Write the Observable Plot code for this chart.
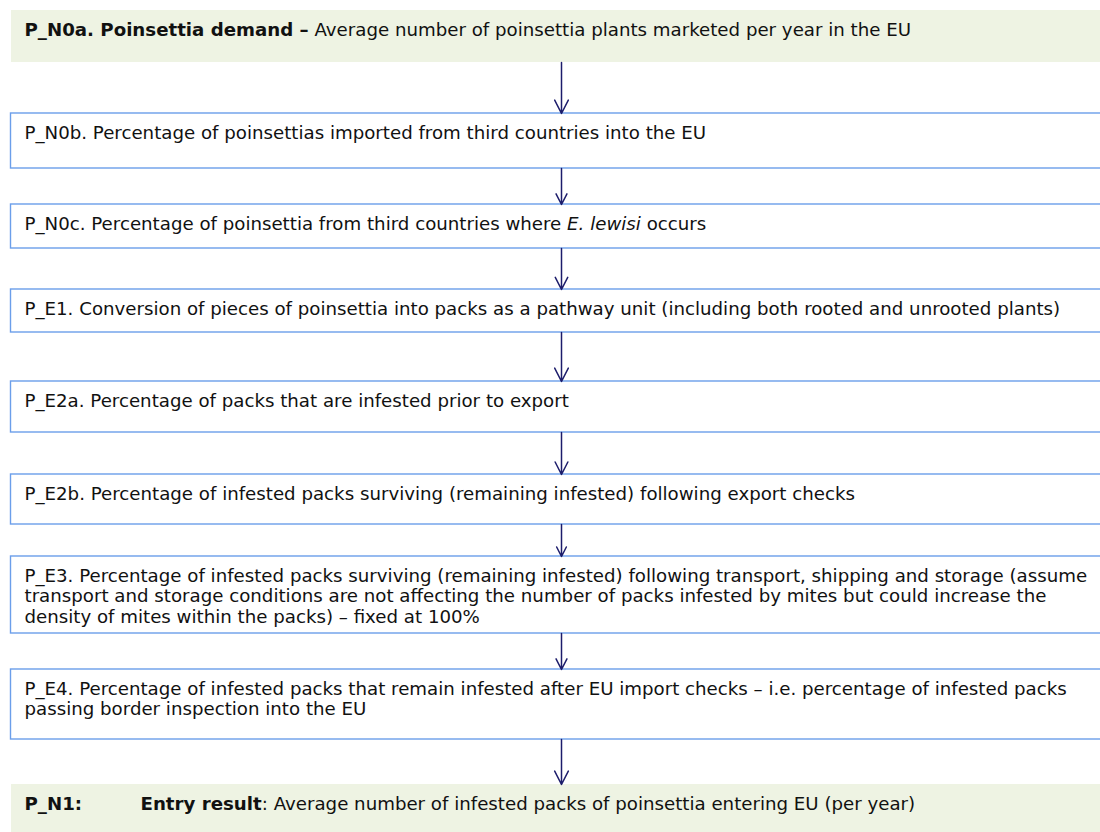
<!DOCTYPE html>
<html>
<head>
<meta charset="utf-8">
<script src="https://cdn.jsdelivr.net/npm/d3@7"></script>
<script src="https://cdn.jsdelivr.net/npm/@observablehq/plot@0.6"></script>
<style>
  html, body { margin: 0; padding: 0; background: #ffffff; }
  #chart svg { display: block; }
</style>
</head>
<body>
<div id="chart"></div>
<script>
// ---- data: flowchart steps, in order ----
const stepIds = ["P_N0a", "P_N0b", "P_N0c", "P_E1", "P_E2a", "P_E2b", "P_E3", "P_E4", "P_N1"];
const stepKinds = ["result", "step", "step", "step", "step", "step", "step", "step", "result"];
// each step: lines of segments [text, style]
const stepLines = [
  [[["P_N0a. Poinsettia demand \u2013", "bold"], [" Average number of poinsettia plants marketed per year in the EU", "normal"]]],
  [[["P_N0b. Percentage of poinsettias imported from third countries into the EU", "normal"]]],
  [[["P_N0c. Percentage of poinsettia from third countries where ", "normal"], ["E. lewisi", "italic"], [" occurs", "normal"]]],
  [[["P_E1. Conversion of pieces of poinsettia into packs as a pathway unit (including both rooted and unrooted plants)", "normal"]]],
  [[["P_E2a. Percentage of packs that are infested prior to export", "normal"]]],
  [[["P_E2b. Percentage of infested packs surviving (remaining infested) following export checks", "normal"]]],
  [
    [["P_E3. Percentage of infested packs surviving (remaining infested) following transport, shipping and storage (assume", "normal"]],
    [["transport and storage conditions are not affecting the number of packs infested by mites but could increase the", "normal"]],
    [["density of mites within the packs) \u2013 fixed at 100%", "normal"]]
  ],
  [
    [["P_E4. Percentage of infested packs that remain infested after EU import checks \u2013 i.e. percentage of infested packs", "normal"]],
    [["passing border inspection into the EU", "normal"]]
  ],
  [[["P_N1:", "bold"], ["\t", "tab"], ["Entry result", "bold"], [": Average number of infested packs of poinsettia entering EU (per year)", "normal"]]]
];

// ---- layout (page coordinates) ----
const W = 1100, H = 832;
const boxTop    = [10, 113, 204, 289, 381, 474, 556, 669, 784];
const boxBottom = [62, 168, 248, 332, 432, 524, 633, 739, 832];
const boxLeft = 10.5, boxRight = 1110;
const textLeft = 24, tabStop = 140;
const firstBaseline = 25, lineGap = 20.5;
const arrowX = 561;
const FONT = "DejaVu Sans, Verdana, sans-serif";
const FS = 18.2;

const greenFill = "#eef3e3";
const boxStroke = "#6b9eea";
const arrowColor = "#1c1c6b";
const textColor = "#111111";

// measure text widths for segment placement
const ctx = document.createElement("canvas").getContext("2d");
function measure(t, style) {
  const w = style === "bold" ? "bold " : "";
  const s = style === "italic" ? "italic " : "";
  ctx.font = `${s}${w}${FS}px ${FONT}`;
  return ctx.measureText(t).width;
}

const boxes = stepIds.map((id, i) => ({id, kind: stepKinds[i], top: boxTop[i], bottom: boxBottom[i]}));
const segments = [];
stepLines.forEach((lines, i) => {
  lines.forEach((segs, li) => {
    let x = textLeft;
    segs.forEach(([t, style]) => {
      if (style === "tab") { x = tabStop; return; }
      segments.push({text: t, style, x, y: boxTop[i] + firstBaseline + li * lineGap});
      x += measure(t, style);
    });
  });
});
const arrows = stepIds.slice(1).map((id, i) => ({from: stepIds[i], to: id, y1: boxBottom[i], y2: boxTop[i + 1]}));

const textOpts = (style) => ({
  x: "x", y: "y", text: "text", textAnchor: "start", lineAnchor: "bottom",
  fill: textColor, fontSize: FS, fontFamily: FONT,
  fontWeight: style === "bold" ? "bold" : "normal",
  fontStyle: style === "italic" ? "italic" : "normal"
});

const chart = Plot.plot({
  width: W, height: H,
  margin: 0,
  x: {domain: [0, W], range: [0, W], axis: null},
  y: {domain: [0, H], range: [0, H], axis: null},
  style: {fontFamily: FONT, background: "#ffffff"},
  marks: [
    Plot.rect(boxes.filter(d => d.kind === "result"), {x1: boxLeft + 0.5, x2: boxRight, y1: "top", y2: "bottom", fill: greenFill}),
    Plot.rect(boxes.filter(d => d.kind === "step"), {x1: boxLeft, x2: boxRight, y1: "top", y2: "bottom", fill: "none", stroke: boxStroke, strokeWidth: 1.4}),
    Plot.arrow(arrows, {x1: arrowX, x2: arrowX, y1: "y1", y2: "y2", stroke: arrowColor, strokeWidth: 1.5, headLength: 15, headAngle: 54}),
    Plot.text(segments.filter(d => d.style === "normal"), textOpts("normal")),
    Plot.text(segments.filter(d => d.style === "bold"), textOpts("bold")),
    Plot.text(segments.filter(d => d.style === "italic"), textOpts("italic"))
  ]
});
document.getElementById("chart").appendChild(chart);
</script>
</body>
</html>
